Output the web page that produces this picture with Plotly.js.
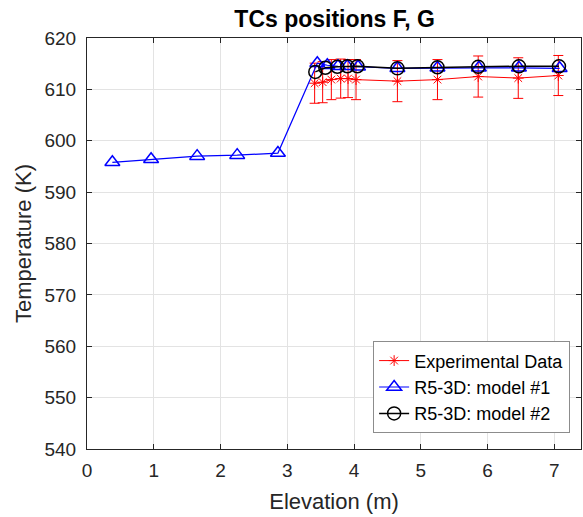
<!DOCTYPE html>
<html>
<head>
<meta charset="utf-8">
<script src="https://cdn.plot.ly/plotly-3.0.1.min.js"></script>
<style>html,body{margin:0;padding:0;background:#fff;}#chart{width:583px;height:517px;}</style>
</head>
<body>
<div id="chart"></div>
<script>
// Experimental data
const expX = [3.41, 3.53, 3.66, 3.80, 3.91, 4.03, 4.65, 5.25, 5.86, 6.46, 7.06];
const expY = [611.2, 611.4, 611.9, 612.1, 612.1, 611.9, 611.6, 611.9, 612.5, 612.2, 612.7];
const expErr = [3.9, 4.0, 3.9, 3.8, 3.7, 3.9, 4.0, 3.9, 4.0, 3.95, 3.9];
// R5-3D model #1
const m1X = [0.38, 0.96, 1.65, 2.25, 2.86, 3.45, 3.60, 3.76, 3.90, 4.06, 4.65, 5.25, 5.87, 6.47, 7.08];
const m1Y = [595.8, 596.4, 597.0, 597.2, 597.6, 615.1, 614.7, 614.5, 614.5, 614.4, 614.1, 614.2, 614.2, 614.2, 614.1];
// R5-3D model #2
const m2X = [3.42, 3.57, 3.75, 3.90, 4.05, 4.65, 5.25, 5.86, 6.47, 7.07];
const m2Y = [613.4, 614.2, 614.4, 614.5, 614.5, 614.1, 614.3, 614.4, 614.5, 614.5];

const xTicks = [0, 1, 2, 3, 4, 5, 6, 7];
const yTicks = [540, 550, 560, 570, 580, 590, 600, 610, 620];

const FONT = 'Liberation Sans, Arial, sans-serif';

const traces = [
  {
    x: expX, y: expY, name: 'Experimental Data', type: 'scatter', mode: 'lines+markers',
    line: {color: '#ff0000', width: 1},
    marker: {symbol: 'asterisk-open', size: 9, color: '#ff0000', line: {color: '#ff0000', width: 1}},
    error_y: {type: 'data', array: expErr, visible: true, color: '#ff0000', thickness: 1, width: 5}
  },
  {
    x: m1X, y: m1Y, name: 'R5-3D: model #1', type: 'scatter', mode: 'lines+markers',
    line: {color: '#0000ff', width: 1.2},
    marker: {symbol: 'triangle-up-open', size: 13, color: '#0000ff', line: {color: '#0000ff', width: 1.5}}
  },
  {
    x: m2X, y: m2Y, name: 'R5-3D: model #2', type: 'scatter', mode: 'lines+markers',
    line: {color: '#000000', width: 1.5},
    marker: {symbol: 'circle-open', size: 13, color: '#000000', line: {color: '#000000', width: 1.5}}
  }
];

const layout = {
  width: 583, height: 517,
  paper_bgcolor: '#ffffff', plot_bgcolor: '#ffffff',
  margin: {l: 87, r: 2, t: 37.5, b: 67.5},
  font: {family: FONT, color: '#262626', size: 19},
  title: {text: '<b>TCs positions F, G</b>', x: 0.574, xanchor: 'center', y: 0.964, yanchor: 'middle',
          font: {family: FONT, size: 23, color: '#000000'}},
  xaxis: {
    range: [0, 7.4], tickvals: xTicks, ticktext: xTicks.map(String),
    ticks: 'inside', ticklen: 5, tickcolor: '#262626',
    showgrid: true, gridcolor: '#e3e3e3', gridwidth: 1,
    showline: true, linecolor: '#262626', linewidth: 1, mirror: 'ticks',
    zeroline: false, ticklabelstandoff: 4,
    tickfont: {family: FONT, size: 19, color: '#262626'},
    title: {text: 'Elevation (m)', font: {family: FONT, size: 22, color: '#262626'}, standoff: 13}
  },
  yaxis: {
    range: [540, 620], tickvals: yTicks, ticktext: yTicks.map(String),
    ticks: 'inside', ticklen: 5, tickcolor: '#262626',
    showgrid: true, gridcolor: '#e3e3e3', gridwidth: 1,
    showline: true, linecolor: '#262626', linewidth: 1, mirror: 'ticks',
    zeroline: false, ticklabelstandoff: 6,
    tickfont: {family: FONT, size: 19, color: '#262626'},
    title: {text: 'Temperature (K)', font: {family: FONT, size: 22, color: '#262626'}, standoff: 6}
  },
  legend: {
    x: 0.978, xanchor: 'right', y: 0.038, yanchor: 'bottom',
    bgcolor: '#ffffff', bordercolor: '#8c8c8c', borderwidth: 1,
    font: {family: FONT, size: 18, color: '#000000'},
    tracegroupgap: 0, itemwidth: 30
  },
  showlegend: true
};

Plotly.newPlot('chart', traces, layout, {displayModeBar: false, staticPlot: true});
</script>
</body>
</html>
